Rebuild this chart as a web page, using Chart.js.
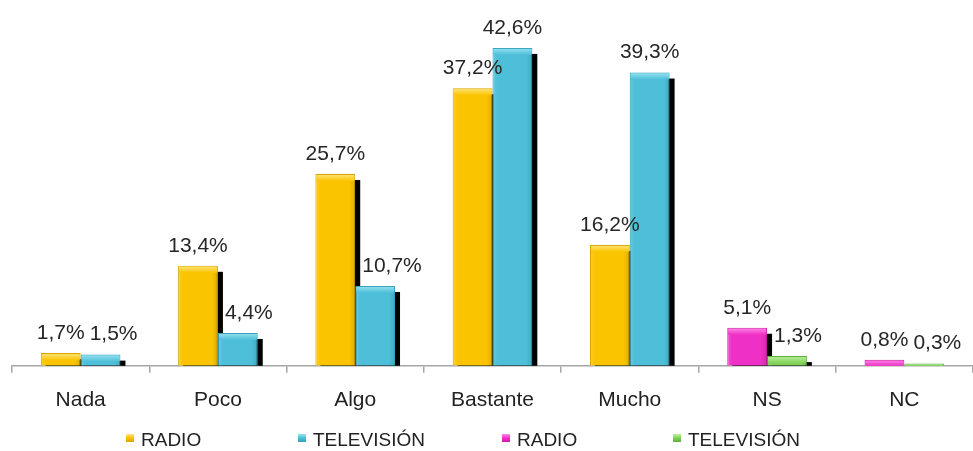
<!DOCTYPE html>
<html>
<head>
<meta charset="utf-8">
<script src="https://cdn.jsdelivr.net/npm/chart.js@4/dist/chart.umd.min.js"></script>
<style>
  html, body { margin:0; padding:0; background:#fff; }
  #wrap { position:relative; width:973px; height:451px; }
  #legend { position:absolute; left:0; top:428px; width:973px; height:24px;
            font-family:"Liberation Sans", Arial, sans-serif; font-size:19px; color:#222; }
  .li { position:absolute; top:0; white-space:nowrap; line-height:24px; }
  .sw { display:inline-block; width:8px; height:8px; margin-right:7px; vertical-align:middle; position:relative; top:-3px; }
</style>
</head>
<body>
<div id="wrap">
  <canvas id="c" width="973" height="451"></canvas>
  <div id="legend"></div>
</div>
<script>
const categories = ["Nada", "Poco", "Algo", "Bastante", "Mucho", "NS", "NC"];
const seriesNames = ["RADIO", "TELEVISIÓN", "RADIO", "TELEVISIÓN"];
const radioMain = [1.7, 13.4, 25.7, 37.2, 16.2, null, null];
const tvMain    = [1.5, 4.4, 10.7, 42.6, 39.3, null, null];
const radioNsNc = [null, null, null, null, null, 5.1, 0.8];
const tvNsNc    = [null, null, null, null, null, 1.3, 0.3];

const colors = ["#FBC400", "#4DBFD8", "#EE30C6", "#7FD257"];
const lightColors = ["#FFE680", "#9AE3F2", "#FF8AE6", "#BDF0A0"];
const borderColors = ["#D9A400", "#33A0BA", "#C81CA4", "#5EAF3C"];

const FONT = "'Liberation Sans', Arial, sans-serif";
const LABEL_SIZE = 21;

const shadowPlugin = {
  id: 'shadow',
  beforeDatasetsDraw(chart) {
    const ctx = chart.ctx;
    ctx.save();
    ctx.fillStyle = '#000';
    chart.data.datasets.forEach((ds, di) => {
      const meta = chart.getDatasetMeta(di);
      meta.data.forEach((el, i) => {
        if (ds.data[i] == null) return;
        const p = el.getProps(['x','y','base','width'], true);
        const top = p.y + 6, bottom = p.base;
        if (bottom - top > 0) {
          ctx.fillRect(p.x - p.width/2 + 5, top, p.width, bottom - top);
        }
      });
    });
    ctx.restore();
  }
};

function fmt(v) { return v.toFixed(1).replace('.', ',') + '%'; }

const bevelLabelPlugin = {
  id: 'bevelLabels',
  afterDatasetsDraw(chart) {
    const ctx = chart.ctx;
    ctx.save();
    const bars = [];
    chart.data.datasets.forEach((ds, di) => {
      const meta = chart.getDatasetMeta(di);
      meta.data.forEach((el, i) => {
        const v = ds.data[i];
        if (v == null) return;
        const p = el.getProps(['x','y','base','width'], true);
        bars.push({ di, i, v, p });
        const left = p.x - p.width/2;
        const h = p.base - p.y;
        const bh = Math.min(7, h);
        if (bh > 0) {
          const g = ctx.createLinearGradient(0, p.y, 0, p.y + bh);
          g.addColorStop(0, lightColors[di]);
          g.addColorStop(1, colors[di]);
          ctx.fillStyle = g;
          ctx.fillRect(left + 1, p.y + 1, p.width - 2, bh - 1);
        }
        if (h > 8) {
          const g2 = ctx.createLinearGradient(left, 0, left + p.width, 0);
          g2.addColorStop(0, 'rgba(255,255,255,0.18)');
          g2.addColorStop(0.12, 'rgba(255,255,255,0)');
          g2.addColorStop(0.85, 'rgba(0,0,0,0)');
          g2.addColorStop(1, 'rgba(0,0,0,0.12)');
          ctx.fillStyle = g2;
          ctx.fillRect(left + 1, p.y + bh, p.width - 2, h - bh);
        }
      });
    });
    // labels: avoid overlapping the neighbouring bar's shadow / label
    ctx.font = LABEL_SIZE + 'px ' + FONT;
    ctx.textAlign = 'center';
    ctx.textBaseline = 'middle';
    ctx.fillStyle = '#262626';
    const placed = {};
    bars.sort((a, b) => a.p.x - b.p.x);
    bars.forEach(b => {
      const txt = fmt(b.v);
      const w = ctx.measureText(txt).width;
      const cy = b.p.y - 20;
      let cx = b.p.x;
      const prev = placed[b.i];
      if (prev) {
        const lt = cy - LABEL_SIZE/2, lb = cy + LABEL_SIZE/2;
        // shadow of the neighbour bar
        if (prev.bar.p.y + 6 < lb) {
          const sr = prev.bar.p.x + prev.bar.p.width/2 + 5;
          cx = Math.max(cx, sr + 2 + w/2);
        }
        // neighbour label
        if (Math.abs(prev.cy - cy) < LABEL_SIZE) {
          cx = Math.max(cx, prev.cx + prev.w/2 + 5 + w/2);
        }
      }
      ctx.fillText(txt, cx, cy);
      placed[b.i] = { bar: b, cx, cy, w };
    });
    ctx.restore();
  }
};

const seriesData = [radioMain, tvMain, radioNsNc, tvNsNc];

new Chart(document.getElementById('c'), {
  type: 'bar',
  data: {
    labels: categories,
    datasets: seriesData.map((d, i) => ({
      label: seriesNames[i],
      data: d,
      backgroundColor: colors[i],
      borderColor: borderColors[i],
      borderWidth: 1,
      skipNull: true,
      categoryPercentage: 0.58,
      barPercentage: 1.0
    }))
  },
  options: {
    responsive: false,
    devicePixelRatio: 1,
    animation: false,
    layout: { padding: { top: 30, left: 12, right: 0, bottom: 23 } },
    plugins: {
      legend: { display: false },
      tooltip: { enabled: false }
    },
    scales: {
      x: {
        grid: { offset: true, drawOnChartArea: false, drawTicks: true, tickLength: 7, color: '#A6A6A6', lineWidth: 1.5 },
        border: { color: '#A6A6A6', width: 1.5 },
        ticks: { font: { size: 21, family: FONT }, color: '#222', padding: 15 }
      },
      y: { display: false, min: 0, max: 45 }
    }
  },
  plugins: [shadowPlugin, bevelLabelPlugin]
});

// HTML legend built from series names/colors
const legendSlots = [126, 298, 502, 673];
const lg = document.getElementById('legend');
seriesNames.forEach((name, i) => {
  const item = document.createElement('div');
  item.className = 'li';
  item.style.left = legendSlots[i] + 'px';
  const sw = document.createElement('span');
  sw.className = 'sw';
  sw.style.background = 'linear-gradient(' + lightColors[i] + ',' + colors[i] + ' 50%,' + borderColors[i] + ')';
  item.appendChild(sw);
  item.appendChild(document.createTextNode(name));
  lg.appendChild(item);
});
</script>
</body>
</html>
